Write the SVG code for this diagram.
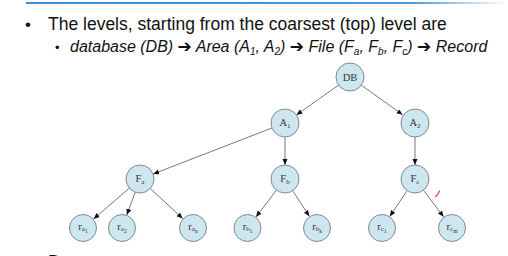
<svg xmlns="http://www.w3.org/2000/svg" width="508" height="256" viewBox="0 0 508 256">
  <defs>
    <linearGradient id="topline" x1="0" y1="0" x2="1" y2="0">
      <stop offset="0" stop-color="#3d8ed6"/>
      <stop offset="0.8" stop-color="#4a97dc"/>
      <stop offset="1" stop-color="#ffffff"/>
    </linearGradient>
    <marker id="arr" markerUnits="userSpaceOnUse" markerWidth="7" markerHeight="6" refX="6" refY="2.5" orient="auto">
      <path d="M0,0 L6,2.5 L0,5 z" fill="#111"/>
    </marker>
  </defs>
  <style>
    .hdr { font-family: "Liberation Sans", Arial, sans-serif; fill: #111; }
    .arw { font-family: "DejaVu Sans", sans-serif; font-style: normal; font-weight: bold; font-size: 17px; }
    .node circle { fill: #cde6ef; stroke: #7d8c92; stroke-width: 1; }
    .node text { font-family: "Liberation Serif", "Times New Roman", serif; font-size: 10.5px; fill: #333; text-anchor: middle; }
    .sub { font-size: 7px; }
    .sub2 { font-size: 5.5px; }
    #edges line { stroke: #555; stroke-width: 0.8; marker-end: url(#arr); }
  </style>
  <rect width="508" height="256" fill="#ffffff"/>
  <rect x="26" y="2" width="482" height="2" fill="url(#topline)"/>

  <g id="header">
    <text class="hdr" x="25" y="30" font-size="17">•</text>
    <text class="hdr" x="48" y="30" font-size="17.5">The levels, starting from the coarsest (top) level are</text>
    <text class="hdr" x="55" y="52" font-size="13">•</text>
    <text class="hdr" x="70" y="52" font-size="16" font-style="italic">database (DB) <tspan class="arw">➔</tspan> Area (A<tspan font-size="10" dy="3">1</tspan><tspan dy="-3">, A</tspan><tspan font-size="10" dy="3">2</tspan><tspan dy="-3">) </tspan><tspan class="arw">➔</tspan> File (F<tspan font-size="10" dy="3">a</tspan><tspan dy="-3">, F</tspan><tspan font-size="10" dy="3">b</tspan><tspan dy="-3">, F</tspan><tspan font-size="10" dy="3">c</tspan><tspan dy="-3">) </tspan><tspan class="arw">➔</tspan> Record</text>
  </g>

  <g id="edges">
    <line x1="338.6" y1="85.1" x2="296.4" y2="114.9"/>
    <line x1="361.4" y1="85.2" x2="402.6" y2="114.8"/>
    <line x1="271.9" y1="128" x2="153.1" y2="174"/>
    <line x1="285" y1="137" x2="285" y2="165"/>
    <line x1="415" y1="137" x2="415" y2="165"/>
    <line x1="129.4" y1="188.1" x2="93.6" y2="218.9"/>
    <line x1="135.2" y1="192.1" x2="126.8" y2="214.9"/>
    <line x1="150.3" y1="188.5" x2="182.7" y2="218.5"/>
    <line x1="276.5" y1="190.1" x2="256" y2="216.9"/>
    <line x1="292.7" y1="190.7" x2="309.3" y2="216.3"/>
    <line x1="407.2" y1="190.6" x2="389.8" y2="216.4"/>
    <line x1="423.4" y1="190.2" x2="443.6" y2="216.8"/>
  </g>

  <g id="DB" class="node"><circle cx="350" cy="77" r="14"/><text x="350" y="80.5">DB</text></g>
  <g id="A1" class="node"><circle cx="285" cy="123" r="14"/><text x="285" y="126">A<tspan class="sub" dy="2">1</tspan></text></g>
  <g id="A2" class="node"><circle cx="415" cy="123" r="14"/><text x="415" y="126">A<tspan class="sub" dy="2">2</tspan></text></g>
  <g id="Fa" class="node"><circle cx="140" cy="179" r="14"/><text x="140" y="182">F<tspan class="sub" dy="2">a</tspan></text></g>
  <g id="Fb" class="node"><circle cx="285" cy="179" r="14"/><text x="285" y="182">F<tspan class="sub" dy="2">b</tspan></text></g>
  <g id="Fc" class="node"><circle cx="415" cy="179" r="14"/><text x="415" y="182">F<tspan class="sub" dy="2">c</tspan></text></g>
  <g id="ra1" class="node"><circle cx="83" cy="228" r="13.5"/><text x="83" y="230">r<tspan class="sub" dy="1">a</tspan><tspan class="sub2" dy="1.5">1</tspan></text></g>
  <g id="ra2" class="node"><circle cx="122" cy="228" r="13.5"/><text x="122" y="230">r<tspan class="sub" dy="1">a</tspan><tspan class="sub2" dy="1.5">2</tspan></text></g>
  <g id="ran" class="node"><circle cx="193" cy="228" r="13.5"/><text x="193" y="230">r<tspan class="sub" dy="1">a</tspan><tspan class="sub2" dy="1.5">n</tspan></text></g>
  <g id="rb1" class="node"><circle cx="247.5" cy="228" r="13.5"/><text x="247.5" y="230">r<tspan class="sub" dy="1">b</tspan><tspan class="sub2" dy="1.5">1</tspan></text></g>
  <g id="rbk" class="node"><circle cx="317" cy="228" r="13.5"/><text x="317" y="230">r<tspan class="sub" dy="1">b</tspan><tspan class="sub2" dy="1.5">k</tspan></text></g>
  <g id="rc1" class="node"><circle cx="382" cy="228" r="13.5"/><text x="382" y="230">r<tspan class="sub" dy="1">c</tspan><tspan class="sub2" dy="1.5">1</tspan></text></g>
  <g id="rcm" class="node"><circle cx="452" cy="228" r="13.5"/><text x="452" y="230">r<tspan class="sub" dy="1">c</tspan><tspan class="sub2" dy="1.5">m</tspan></text></g>

  <path d="M435.5,196.5 Q438,195 439.5,191" fill="none" stroke="#e8402a" stroke-width="1.2" stroke-linecap="round"/>
  <text class="hdr" x="48" y="268" font-size="18">Data</text>
</svg>
